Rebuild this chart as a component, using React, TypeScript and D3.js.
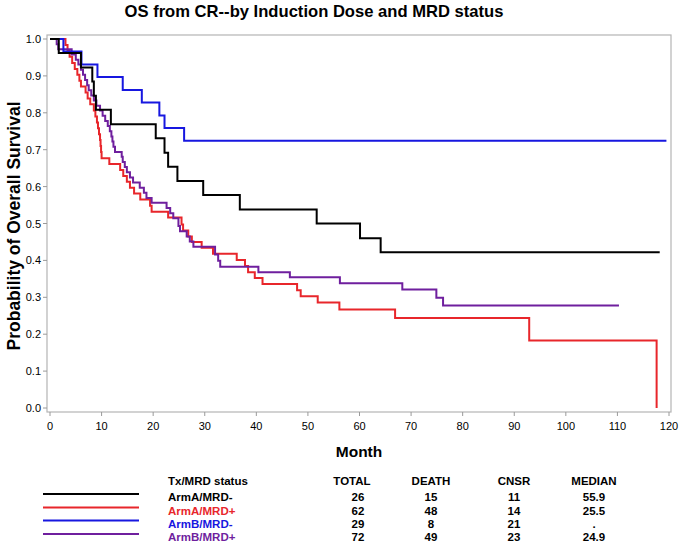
import React from "react";
import * as d3 from "d3";

// ---- data ----
const groups = ["ArmA/MRD-", "ArmA/MRD+", "ArmB/MRD-", "ArmB/MRD+"];

// step (event) times and survival after each step
const armANegTimes = [1.7, 6.0, 8.2, 8.5, 8.9, 11.8, 20.5, 22.2, 22.9, 24.7, 29.7, 36.8, 51.7, 60.1, 64.1];
const armANegSurv = [0.962, 0.923, 0.885, 0.846, 0.808, 0.769, 0.731, 0.692, 0.654, 0.615, 0.577, 0.538, 0.5, 0.46, 0.422];
const armANegEnd = 118.2;

const armAPosTimes = [3.0, 3.4, 3.8, 4.3, 4.8, 5.3, 5.7, 6.0, 6.9, 7.3, 7.8, 8.5, 8.8, 9.1, 9.3, 9.5, 9.7, 9.8, 9.9, 10.0,
  11.5, 13.6, 14.2, 14.9, 15.5, 16.3, 17.5, 19.4, 19.7, 22.9, 25.5, 25.8, 26.8, 27.5, 29.4, 31.6, 36.2, 37.8, 38.4, 39.7,
  41.2, 47.9, 48.6, 51.9, 56.1, 66.9, 92.9, 117.6];
const armAPosSurv = [0.984, 0.968, 0.952, 0.935, 0.919, 0.903, 0.887, 0.871, 0.855, 0.839, 0.823, 0.806, 0.79, 0.774, 0.758,
  0.742, 0.726, 0.71, 0.694, 0.677, 0.661, 0.645, 0.629, 0.613, 0.597, 0.581, 0.565, 0.548, 0.532, 0.516, 0.497, 0.481,
  0.465, 0.45, 0.434, 0.418, 0.401, 0.385, 0.368, 0.352, 0.336, 0.319, 0.303, 0.286, 0.267, 0.244, 0.183, 0.0];
const armAPosEnd = 117.6;

const armBNegTimes = [2.6, 6.1, 9.2, 14.1, 17.8, 21.2, 22.2, 26.0];
const armBNegSurv = [0.966, 0.931, 0.897, 0.862, 0.828, 0.793, 0.759, 0.724];
const armBNegEnd = 119.5;

const armBPosTimes = [1.3, 1.6, 4.2, 5.0, 5.5, 6.0, 6.4, 6.8, 7.2, 7.5, 8.0, 8.5, 9.0, 9.7, 10.2, 10.7, 11.2, 11.6, 11.9,
  12.1, 12.3, 12.6, 13.9, 14.1, 14.5, 14.9, 15.5, 16.1, 17.4, 18.2, 18.7, 19.7, 22.6, 23.3, 23.9, 24.9, 25.2, 26.5, 27.1,
  27.8, 32.0, 32.6, 33.0, 40.4, 46.5, 56.2, 68.3, 74.9, 76.2];
const armBPosSurv = [0.986, 0.972, 0.958, 0.944, 0.931, 0.917, 0.903, 0.889, 0.875, 0.861, 0.847, 0.833, 0.819, 0.806,
  0.792, 0.778, 0.764, 0.75, 0.736, 0.722, 0.708, 0.694, 0.681, 0.667, 0.653, 0.639, 0.625, 0.611, 0.597, 0.583, 0.569,
  0.556, 0.542, 0.528, 0.514, 0.493, 0.479, 0.465, 0.451, 0.437, 0.416, 0.399, 0.383, 0.368, 0.354, 0.338, 0.321, 0.299, 0.278];
const armBPosEnd = 110.3;

const totals = [26, 62, 29, 72];
const deaths = [15, 48, 8, 49];
const censored = [11, 14, 21, 23];
const medians = ["55.9", "25.5", ".", "24.9"];

const xTickValues = [0, 10, 20, 30, 40, 50, 60, 70, 80, 90, 100, 110, 120];
const yTickValues = [0, 0.1, 0.2, 0.3, 0.4, 0.5, 0.6, 0.7, 0.8, 0.9, 1.0];

const titleText = "OS from CR--by Induction Dose and MRD status";
const xLabel = "Month";
const yLabel = "Probability of Overall Survival";
const tableHeaders = ["Tx/MRD status", "TOTAL", "DEATH", "CNSR", "MEDIAN"];

// ---- styles ----
const seriesColors = ["#000000", "#e8262b", "#1717e0", "#6f1f9e"];
const FONT = "'Liberation Sans', Arial, sans-serif";

const seriesTimes = [armANegTimes, armAPosTimes, armBNegTimes, armBPosTimes];
const seriesSurv = [armANegSurv, armAPosSurv, armBNegSurv, armBPosSurv];
const seriesEnd = [armANegEnd, armAPosEnd, armBNegEnd, armBPosEnd];

export default function App() {
  const W = 680, H = 543;
  const frame = { left: 47, right: 671, top: 35, bottom: 412 };
  const x = d3.scaleLinear().domain([0, 120]).range([50, 669]);
  const y = d3.scaleLinear().domain([0, 1]).range([408, 39]);

  const line = d3
    .line<[number, number]>()
    .x((d) => x(d[0]))
    .y((d) => y(d[1]))
    .curve(d3.curveStepAfter);

  const paths = groups.map((g, i) => {
    const pts: [number, number][] = [[0, 1]];
    seriesTimes[i].forEach((t, j) => pts.push([t, seriesSurv[i][j]]));
    const last = pts[pts.length - 1];
    if (seriesEnd[i] > last[0]) pts.push([seriesEnd[i], last[1]]);
    return line(pts) || "";
  });
  const order = [1, 3, 2, 0];

  const colX = { line0: 43, line1: 139, label: 168, total: 358, death: 431, cnsr: 514, median: 594 };
  const headerY = 485;
  const rowY = [501, 514.5, 527.5, 541];

  return (
    <svg width={W} height={H} style={{ position: "absolute", left: 0, top: 0, background: "#fff" }} fontFamily={FONT}>
      <rect x={0} y={0} width={W} height={H} fill="#fff" />
      <text x={314} y={17} textAnchor="middle" fontSize={16.6} fontWeight="bold" fill="#000">
        {titleText}
      </text>

      <rect
        x={frame.left}
        y={frame.top}
        width={frame.right - frame.left}
        height={frame.bottom - frame.top}
        fill="none"
        stroke="#b4b4b4"
        strokeWidth={1.2}
      />

      {yTickValues.map((v) => (
        <g key={"y" + v}>
          <line x1={43} x2={frame.left} y1={y(v)} y2={y(v)} stroke="#9a9a9a" strokeWidth={1} />
          <text x={41} y={y(v) + 4} textAnchor="end" fontSize={11} fill="#000">
            {v.toFixed(1)}
          </text>
        </g>
      ))}
      {xTickValues.map((v) => (
        <g key={"x" + v}>
          <line x1={x(v)} x2={x(v)} y1={frame.bottom} y2={frame.bottom + 4} stroke="#9a9a9a" strokeWidth={1} />
          <text x={x(v)} y={430} textAnchor="middle" fontSize={11} fill="#000">
            {v}
          </text>
        </g>
      ))}

      <text x={359} y={457} textAnchor="middle" fontSize={15.5} fontWeight="bold" fill="#000">
        {xLabel}
      </text>
      <text
        transform={`translate(20,226) rotate(-90)`}
        textAnchor="middle"
        fontSize={17.5}
        fontWeight="bold"
        fill="#000"
      >
        {yLabel}
      </text>

      {order.map((i) => (
        <path key={"p" + i} d={paths[i]} fill="none" stroke={seriesColors[i]} strokeWidth={2} />
      ))}

      <g fontSize={11.5} fontWeight="bold">
        <text x={colX.label} y={headerY} fill="#000">{tableHeaders[0]}</text>
        <text x={colX.total - 6} y={headerY} textAnchor="middle" fill="#000">{tableHeaders[1]}</text>
        <text x={colX.death} y={headerY} textAnchor="middle" fill="#000">{tableHeaders[2]}</text>
        <text x={colX.cnsr} y={headerY} textAnchor="middle" fill="#000">{tableHeaders[3]}</text>
        <text x={colX.median} y={headerY} textAnchor="middle" fill="#000">{tableHeaders[4]}</text>
        {groups.map((g, i) => (
          <g key={"row" + i}>
            <line
              x1={colX.line0}
              x2={colX.line1}
              y1={rowY[i] - 7}
              y2={rowY[i] - 7}
              stroke={seriesColors[i]}
              strokeWidth={2}
            />
            <text x={colX.label} y={rowY[i]} fill={i === 0 ? "#000" : seriesColors[i]}>{g}</text>
            <text x={colX.total} y={rowY[i]} textAnchor="middle" fill="#000">{totals[i]}</text>
            <text x={colX.death} y={rowY[i]} textAnchor="middle" fill="#000">{deaths[i]}</text>
            <text x={colX.cnsr} y={rowY[i]} textAnchor="middle" fill="#000">{censored[i]}</text>
            <text x={colX.median} y={rowY[i]} textAnchor="middle" fill="#000">{medians[i]}</text>
          </g>
        ))}
      </g>
    </svg>
  );
}
